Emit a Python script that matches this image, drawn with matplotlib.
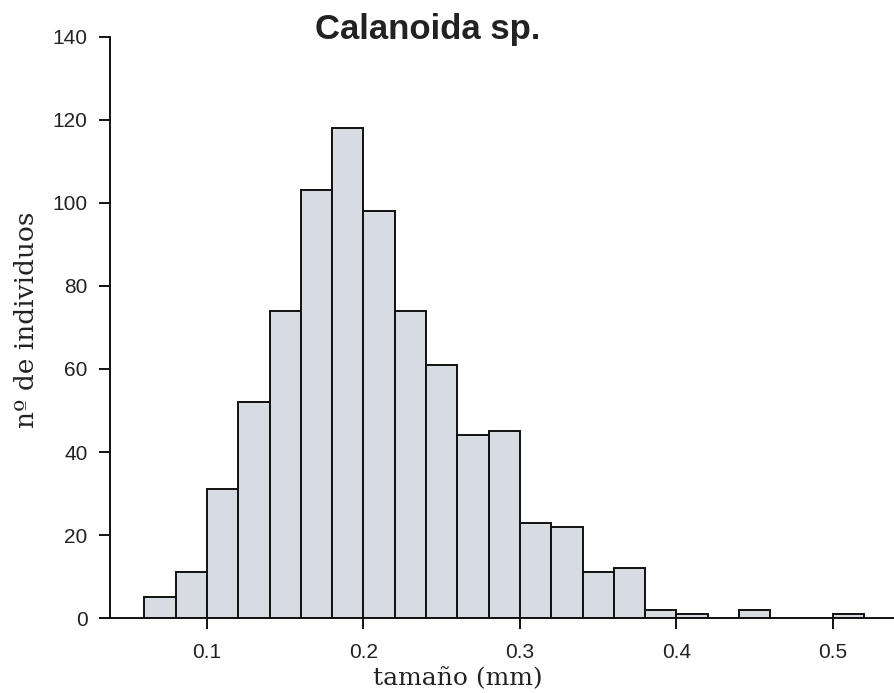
import numpy as np
import matplotlib
matplotlib.use("Agg")
import matplotlib.pyplot as plt

# histogram bins (mm), width 0.02
bin_edges = [0.06, 0.08, 0.10, 0.12, 0.14, 0.16, 0.18, 0.20, 0.22, 0.24, 0.26, 0.28,
             0.30, 0.32, 0.34, 0.36, 0.38, 0.40, 0.42, 0.44, 0.46, 0.48, 0.50, 0.52]
counts = [5, 11, 31, 52, 74, 103, 118, 98, 74, 61, 44, 45,
          23, 22, 11, 12, 2, 1, 0, 2, 0, 0, 1]
x_ticks = [0.1, 0.2, 0.3, 0.4, 0.5]
y_ticks = [0, 20, 40, 60, 80, 100, 120, 140]

fig = plt.figure(figsize=(8.94, 6.93), dpi=100)
ax = fig.add_axes([0.123, 0.108, 0.877, 0.839])

lefts = np.array(bin_edges[:-1])
widths = np.diff(bin_edges)
ax.bar(lefts, counts, width=widths, align="edge", color="#d6dce2",
       edgecolor="#111111", linewidth=1.4)

ax.set_xlim(0.038, 0.539)
ax.set_ylim(0, 140)
ax.set_xticks(x_ticks)
ax.set_xticklabels([f"{v:.1f}" for v in x_ticks])
ax.set_yticks(y_ticks)

for s in ["top", "right"]:
    ax.spines[s].set_visible(False)
for s in ["left", "bottom"]:
    ax.spines[s].set_linewidth(1.4)
    ax.spines[s].set_color("#111111")
ax.tick_params(direction="out", length=8, width=1.4, color="#111111",
               labelsize=15, labelcolor="#222222")
ax.tick_params(axis="x", pad=10)
ax.tick_params(axis="y", pad=8)
for lab in ax.get_xticklabels() + ax.get_yticklabels():
    lab.set_family("Liberation Sans")

fig.text(0.478, 0.958, "Calanoida sp.", ha="center", va="center",
         fontsize=25, fontweight="bold", family="Liberation Sans", color="#222222")
fig.text(0.512, 0.02, "tamaño (mm)", ha="center", va="center",
         fontsize=18, family="DejaVu Serif", color="#222222")
fig.text(0.03, 0.538, "nº de individuos", ha="center", va="center", rotation=90,
         fontsize=19, family="DejaVu Serif", color="#222222")

fig.savefig("out.png", dpi=100)
